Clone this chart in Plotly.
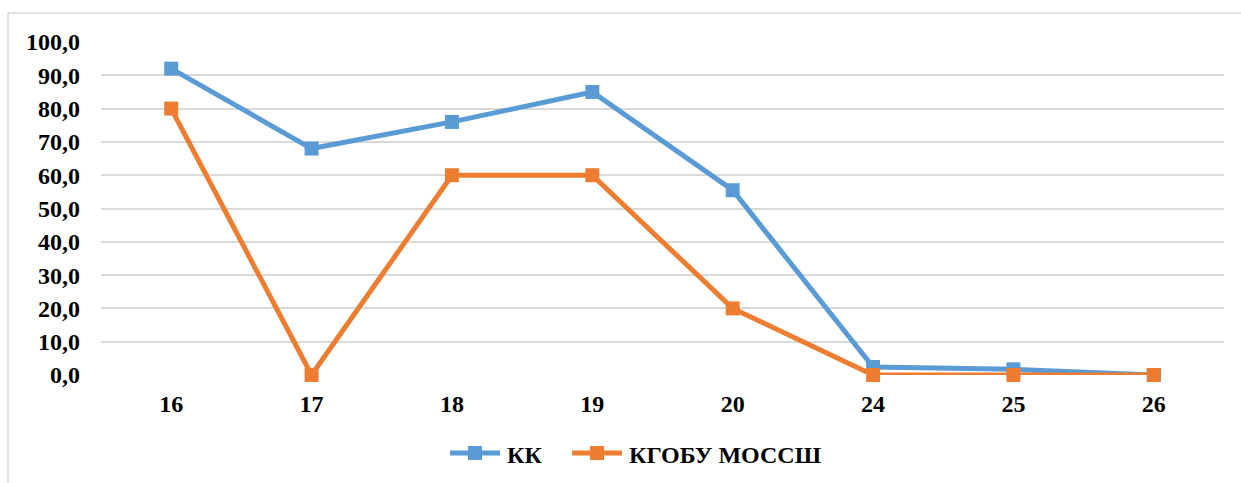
import plotly.graph_objects as go

categories = ["16", "17", "18", "19", "20", "24", "25", "26"]
kk_values = [92.0, 68.0, 76.0, 85.0, 55.5, 2.4, 1.7, 0.0]
school_values = [80.0, 0.0, 60.0, 60.0, 20.0, 0.0, 0.0, 0.0]
series_names = ["КК", "КГОБУ МОССШ"]
y_ticks = [0, 10, 20, 30, 40, 50, 60, 70, 80, 90, 100]
y_tick_labels = [f"{v:.1f}".replace(".", ",") for v in y_ticks]

BLUE = "#5B9BD5"
ORANGE = "#ED7D31"
COLORS = [BLUE, ORANGE]
FONT = "Liberation Serif, Times New Roman, serif"
FS = 24

fig = go.Figure()
for name, vals, col in zip(series_names, [kk_values, school_values], COLORS):
    fig.add_trace(go.Scatter(
        x=categories, y=vals, name=name, mode="lines+markers",
        line=dict(color=col, width=5),
        marker=dict(symbol="square", size=14, color=col, line=dict(width=0)),
        cliponaxis=False, showlegend=False,
    ))

W, H = 1241, 483
L, R, T, B = 101, 17, 42, 108
pw, ph = W - L - R, H - T - B

def px_to_paper_x(px):
    return (px - L) / pw

def px_to_paper_y(py):
    return (H - B - py) / ph

shapes = [
    dict(type="line", xref="paper", yref="paper",
         x0=px_to_paper_x(8), x1=px_to_paper_x(1260), y0=px_to_paper_y(13), y1=px_to_paper_y(13),
         line=dict(color="#D9D9D9", width=1.5)),
    dict(type="line", xref="paper", yref="paper",
         x0=px_to_paper_x(8), x1=px_to_paper_x(8), y0=px_to_paper_y(13), y1=px_to_paper_y(500),
         line=dict(color="#D9D9D9", width=1.5)),
]
annotations = []

# custom legend (Excel-style long line + square marker)
legend_y = 453
legend_starts = [448, 570]
for name, col, x0 in zip(series_names, COLORS, legend_starts):
    shapes.append(dict(type="line", xref="paper", yref="paper",
                       x0=px_to_paper_x(x0 + 2), x1=px_to_paper_x(x0 + 52),
                       y0=px_to_paper_y(legend_y), y1=px_to_paper_y(legend_y),
                       line=dict(color=col, width=5)))
    shapes.append(dict(type="rect", xref="paper", yref="paper",
                       x0=px_to_paper_x(x0 + 20), x1=px_to_paper_x(x0 + 34),
                       y0=px_to_paper_y(legend_y - 7), y1=px_to_paper_y(legend_y + 7),
                       fillcolor=col, line=dict(width=0)))
    annotations.append(dict(xref="paper", yref="paper", x=px_to_paper_x(x0 + 57), y=px_to_paper_y(legend_y + 2),
                            xanchor="left", yanchor="middle", showarrow=False, text=name,
                            font=dict(family=FONT, size=FS, color="black", weight="bold")))

fig.update_layout(
    width=W, height=H,
    margin=dict(l=L, r=R, t=T, b=B),
    paper_bgcolor="white", plot_bgcolor="white",
    font=dict(family=FONT, size=FS, color="black"),
    showlegend=False,
    xaxis=dict(type="category", showgrid=False, zeroline=False, showline=False,
               tickfont=dict(family=FONT, size=FS, color="black", weight="bold"),
               ticks="", ticklabelstandoff=12, range=[-0.5, 7.5]),
    yaxis=dict(range=[0, 100], tickvals=y_ticks, ticktext=y_tick_labels,
               showgrid=True, gridcolor="#D9D9D9", gridwidth=1.5, zeroline=False, showline=False,
               tickfont=dict(family=FONT, size=FS, color="black", weight="bold"),
               ticks="", ticklabelstandoff=20),
    shapes=shapes,
    annotations=annotations,
)

fig.write_html("out.html", config={"displayModeBar": False},
               post_script="document.body.style.margin='0';document.body.style.overflow='hidden';")
